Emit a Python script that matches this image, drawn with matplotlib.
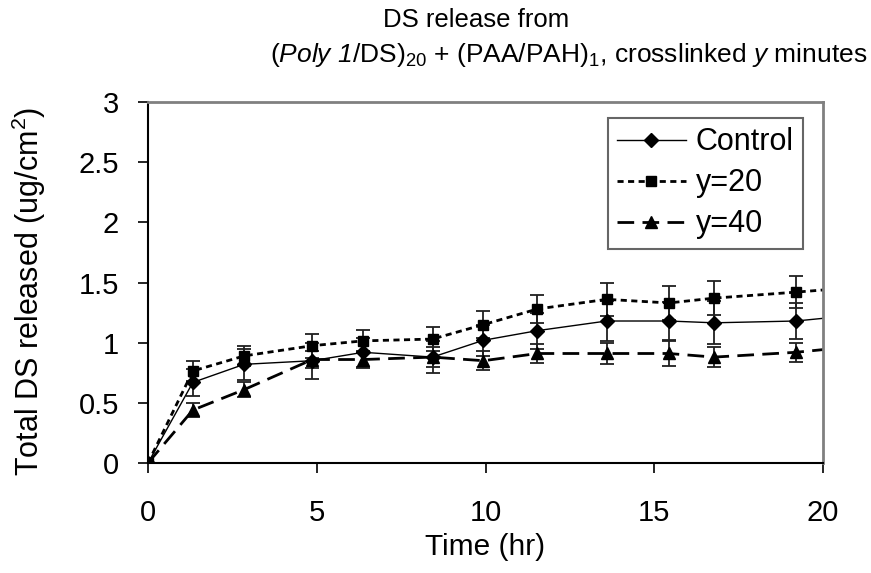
import matplotlib.pyplot as plt

plt.rcParams['font.family'] = ['Liberation Sans', 'DejaVu Sans']
plt.rcParams['mathtext.fontset'] = 'custom'
plt.rcParams['mathtext.rm'] = 'Liberation Sans'
plt.rcParams['mathtext.it'] = 'Liberation Sans:italic'
# sf slot used for italic text that includes a digit ("Poly 1")
plt.rcParams['mathtext.sf'] = 'Liberation Sans:italic'

# time points (hr); the last one lies past the axis edge
time_hr = [0, 1.33, 2.85, 4.87, 6.38, 8.43, 9.94, 11.54, 13.59, 15.43, 16.77, 19.2, 21.0]

control = [0, 0.67, 0.82, 0.85, 0.92, 0.88, 1.02, 1.10, 1.18, 1.18, 1.165, 1.18, 1.23]
control_err = [0, 0.11, 0.13, 0.15, 0.12, 0.13, 0.13, 0.15, 0.17, 0.16, 0.18, 0.15, 0.15]

y20 = [0, 0.765, 0.89, 0.975, 1.015, 1.03, 1.15, 1.28, 1.36, 1.33, 1.37, 1.42, 1.46]
y20_err = [0, 0.08, 0.085, 0.1, 0.09, 0.1, 0.11, 0.12, 0.14, 0.14, 0.14, 0.13, 0.13]

y40 = [0, 0.44, 0.61, 0.86, 0.86, 0.88, 0.85, 0.91, 0.91, 0.91, 0.88, 0.92, 0.97]
y40_err = [0, 0.06, 0.06, 0.07, 0.07, 0.08, 0.08, 0.08, 0.09, 0.1, 0.08, 0.08, 0.08]

fig = plt.figure(figsize=(8.71, 5.73), dpi=100)
ax = fig.add_axes([148/871, 1 - 463/573, (823-148)/871, (463-102)/573])

eb_kw = dict(color='black', ecolor='#202020', elinewidth=1.3, capsize=5, capthick=1.3)
c1 = ax.errorbar(time_hr, control, yerr=control_err, linestyle='-', linewidth=1,
                 marker='D', markersize=7, **eb_kw)
c2 = ax.errorbar(time_hr, y20, yerr=y20_err, linestyle=(0, (2.2, 1.6)), linewidth=2,
                 marker='s', markersize=7, **eb_kw)
c3 = ax.errorbar(time_hr, y40, yerr=y40_err, linestyle=(0, (6, 3)), linewidth=2,
                 marker='^', markersize=8, **eb_kw)

ax.set_xlim(0, 20)
ax.set_ylim(0, 3)
ax.set_xticks([0, 5, 10, 15, 20])
ax.set_yticks([0, 0.5, 1, 1.5, 2, 2.5, 3])
ax.set_yticklabels(['0', '0.5', '1', '1.5', '2', '2.5', '3'])
ax.tick_params(direction='out', length=7, width=1.2, labelsize=21)
ax.tick_params(axis='x', pad=19)
ax.tick_params(axis='y', pad=14)

for side in ['left', 'bottom']:
    ax.spines[side].set_color('black')
    ax.spines[side].set_linewidth(1.5)
for side in ['top', 'right']:
    ax.spines[side].set_color('#808080')
    ax.spines[side].set_linewidth(2)

ax.set_xlabel('Time (hr)', fontsize=21.5, labelpad=4)
ax.set_ylabel('Total DS released (ug/cm$^2$)', fontsize=22, labelpad=22)
ax.yaxis.label.set_y(0.474)

# two title lines, each centred on its own
fig.text(476/871, 1 - 27/573, 'DS release from', fontsize=18.5,
         ha='center', va='baseline')
fig.text(569/871, 1 - 62/573,
         '($\\mathsf{Poly\\ 1}$/DS)$_{20}$ + (PAA/PAH)$_1$, crosslinked $\\it{y}$ minutes',
         fontsize=19, ha='center', va='baseline')

leg = ax.legend([c1[0], c2[0], c3[0]], ['Control', 'y=20', 'y=40'],
                loc='upper right', bbox_to_anchor=(0.97, 0.955), fontsize=22,
                frameon=True, fancybox=False, handlelength=2.25, handletextpad=0.33,
                borderpad=0.3, labelspacing=0.36, borderaxespad=0)
leg.get_frame().set_edgecolor('#404040')
leg.get_frame().set_linewidth(1.5)

fig.savefig('out.png', dpi=100)
